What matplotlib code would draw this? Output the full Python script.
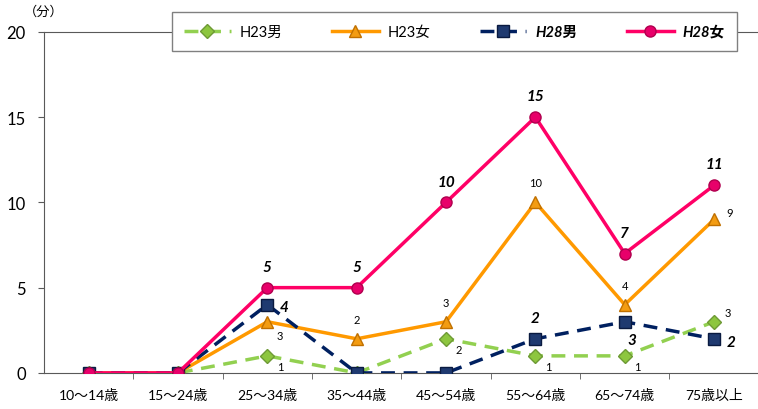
import matplotlib
matplotlib.use('Agg')
import matplotlib.pyplot as plt

plt.rcParams['font.family'] = ['Lato', 'Noto Sans CJK JP', 'DejaVu Sans']

categories = ['10〜14歳', '15〜24歳', '25〜34歳', '35〜44歳', '45〜54歳', '55〜64歳', '65〜74歳', '75歳以上']
h23_male = [0, 0, 1, 0, 2, 1, 1, 3]
h23_female = [0, 0, 3, 2, 3, 10, 4, 9]
h28_male = [0, 0, 4, 0, 0, 2, 3, 2]
h28_female = [0, 0, 5, 5, 10, 15, 7, 11]

fig = plt.figure(figsize=(7.58, 4.10), dpi=100)
ax = fig.add_axes([0.058, 0.088, 0.943, 0.832])

x = range(len(categories))
l1, = ax.plot(x, h23_male, color='#92D050', lw=2.5, ls=(0, (4, 2.5)), marker='D', ms=7,
              mfc='#8DC63F', mec='#6E9A35', zorder=3)
l2, = ax.plot(x, h23_female, color='#FF9900', lw=2.5, marker='^', ms=9,
              mfc='#F39C12', mec='#C07000', zorder=4)
l3, = ax.plot(x, h28_male, color='#002060', lw=2.5, ls=(0, (4, 2.5)), marker='s', ms=8,
              mfc='#1F3A70', mec='#0A1A40', zorder=5)
l4, = ax.plot(x, h28_female, color='#FF0066', lw=2.5, marker='o', ms=8,
              mfc='#E8006A', mec='#B0004E', zorder=6)

# data labels
def lab(i, v, dx, dy, bold=False):
    if bold:
        ax.annotate(str(v), (i, v), xytext=(dx, dy), textcoords='offset points',
                    ha='center', va='center', fontsize=11, fontweight='bold', fontstyle='italic')
    else:
        ax.annotate(str(v), (i, v), xytext=(dx, dy), textcoords='offset points',
                    ha='center', va='center', fontsize=8)

for i, v in enumerate(h23_male):
    if v == 0:
        continue
    if i == 7:
        lab(i, v, 10, 7)
    else:
        lab(i, v, 9, -8)
for i, v in enumerate(h23_female):
    if v == 0:
        continue
    if i == 2:
        lab(i, v, 9, -10)
    elif i == 7:
        lab(i, v, 11, 5)
    else:
        lab(i, v, 0, 14)
for i, v in enumerate(h28_male):
    if v == 0:
        continue
    if i == 5:
        lab(i, v, 0, 15, True)
    elif i == 6:
        lab(i, v, 5, -13, True)
    else:
        lab(i, v, 12, -2, True)
for i, v in enumerate(h28_female):
    if v > 0:
        lab(i, v, 0, 15, True)

ax.set_xlim(-0.5, 7.5)
ax.set_ylim(0, 20)
ax.set_yticks([0, 5, 10, 15, 20])
ax.set_xticks(list(x))
ax.set_xticklabels(categories, fontsize=10)
ax.set_xticks([i + 0.5 for i in range(7)], minor=True)
ax.tick_params(axis='x', which='major', length=0, pad=11)
ax.tick_params(axis='x', which='minor', length=4, direction='out', color='#595959')
ax.tick_params(axis='y', labelsize=12, length=4, color='#595959', pad=9)
for s in ['left', 'bottom', 'top']:
    ax.spines[s].set_color('#595959')
ax.spines['right'].set_visible(False)

fig.text(0.058, 0.972, '（分）', fontsize=9.5, ha='center', va='center')

leg = ax.legend([l1, l2, l3, l4], ['H23男', 'H23女', 'H28男', 'H28女'], ncol=4,
                loc='center', bbox_to_anchor=(0.574, 1.0), fontsize=10.5, frameon=True,
                fancybox=False, edgecolor='#808080', framealpha=1, handlelength=3.2,
                handletextpad=0.6, columnspacing=3.4, borderpad=0.85, borderaxespad=0)
texts = leg.get_texts()
for t in texts[2:]:
    t.set_fontweight('bold')
    t.set_fontstyle('italic')
leg.set_zorder(10)

fig.savefig('out.png', dpi=100)
